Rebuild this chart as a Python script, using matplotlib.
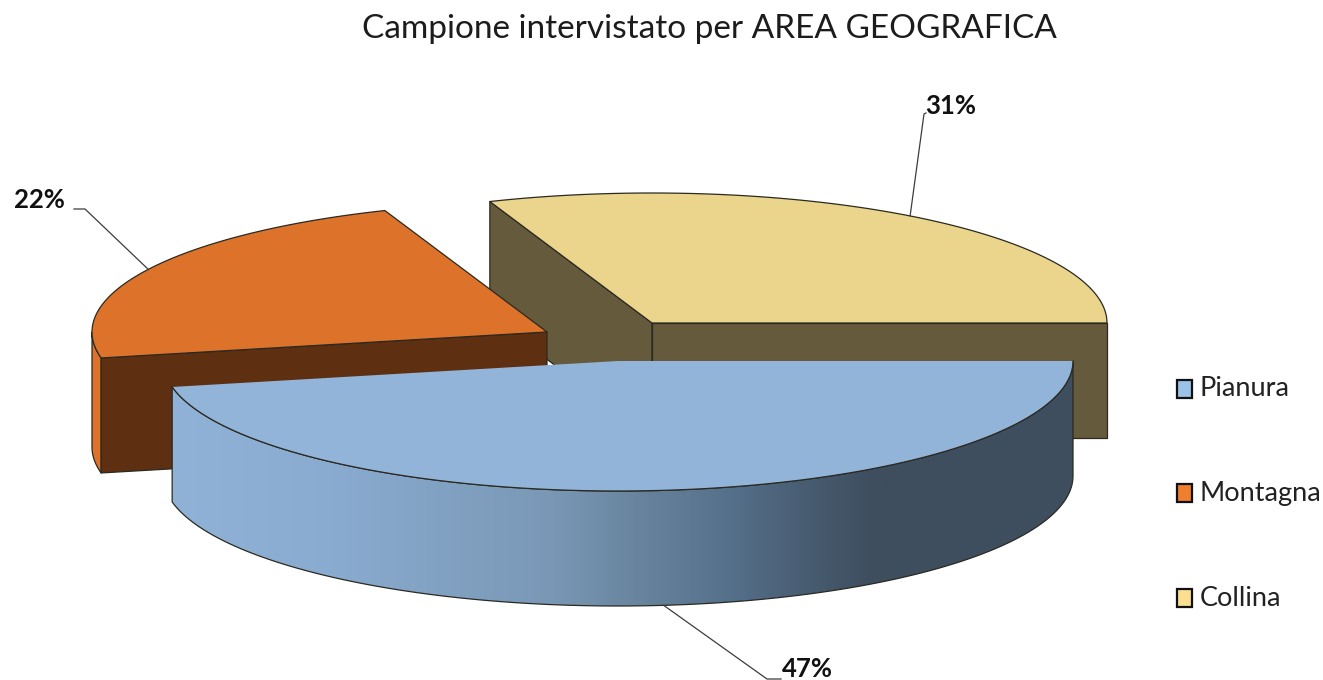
import numpy as np
import matplotlib
matplotlib.use("Agg")
import matplotlib.pyplot as plt
from matplotlib.colors import LinearSegmentedColormap
from matplotlib.patches import Polygon, Rectangle

plt.rcParams['font.family'] = ['Lato', 'DejaVu Sans']

title = "Campione intervistato per AREA GEOGRAFICA"
categories = ["Pianura", "Montagna", "Collina"]
# labels show the rounded values 47 / 22 / 31
values = [46.8, 22.4, 30.8]

# fake 3d pie: ellipse radii and slice thickness, in pixels
RX, RY, DEPTH = 455, 130, 115
centers = {"Pianura": (618, 361), "Montagna": (547, 332), "Collina": (652, 323)}
top_colors = {"Pianura": "#92b4d8", "Montagna": "#dd722b", "Collina": "#ebd48c"}
cut_colors = {"Pianura": "#3e4e5f", "Montagna": "#5f2f12", "Collina": "#665a3c"}
legend_colors = {"Pianura": "#9bc2e8", "Montagna": "#ef7f2e", "Collina": "#fbdf90"}
EDGE = "#2a2a22"


def rim(cat, a0, a1, dz=0, n=120):
    cx, cy = centers[cat]
    t = np.radians(np.linspace(a0, a1, n))
    return np.column_stack([cx + RX * np.cos(t), cy + RY * np.sin(t) + dz])


def point(cat, a, dz=0):
    return rim(cat, a, a, dz, 1)[0]


fig = plt.figure(figsize=(13.23, 6.8), dpi=100)
ax = fig.add_axes([0, 0, 1, 1])
ax.set_xlim(0, 1323)
ax.set_ylim(680, 0)
ax.axis("off")

# slice angles go clockwise on screen, starting from the right
bounds = np.concatenate([[0], np.cumsum(values)]) * 3.6
angles = {c: (bounds[i], bounds[i + 1]) for i, c in enumerate(categories)}


def cut_face(cat, a):
    center = np.array(centers[cat], dtype=float)
    p = point(cat, a)
    d = np.array([0, DEPTH])
    return [center, p, p + d, center + d]


def draw_poly(pts, color, z, lw=0.9, edge=EDGE):
    ax.add_patch(Polygon(pts, closed=True, facecolor=color, edgecolor=edge, lw=lw, zorder=z, joinstyle="round"))


# Collina (back)
a0, a1 = angles["Collina"]
draw_poly(cut_face("Collina", a0), cut_colors["Collina"], 1)
draw_poly(cut_face("Collina", a1), cut_colors["Collina"], 1)
draw_poly(np.vstack([[centers["Collina"]], rim("Collina", a0, a1)]), top_colors["Collina"], 2)

# Montagna
a0, a1 = angles["Montagna"]
outer = np.vstack([rim("Montagna", a0, 180), rim("Montagna", 180, a0, DEPTH)])
draw_poly(outer, top_colors["Montagna"], 3)
draw_poly(cut_face("Montagna", a0), cut_colors["Montagna"], 3)
draw_poly(np.vstack([[centers["Montagna"]], rim("Montagna", a0, a1)]), top_colors["Montagna"], 4)

# Pianura (front) with shaded outer wall
a0, a1 = angles["Pianura"]
wall = np.vstack([rim("Pianura", a0, a1), rim("Pianura", a1, a0, DEPTH)])
wall_patch = Polygon(wall, closed=True, facecolor="none", edgecolor=EDGE, lw=0.9, zorder=6)
shade = LinearSegmentedColormap.from_list(
    "shade", [(0, "#8fb2d6"), (0.18, "#89abcf"), (0.42, "#7a98b6"), (0.5, "#6b87a2"), (0.62, "#55708a"), (0.74, "#435568"), (0.78, "#3e4e5f"), (1, "#3e4e5f")]
)
x_min, x_max = wall[:, 0].min(), wall[:, 0].max()
img = ax.imshow(
    np.linspace(0, 1, 400)[None, :], cmap=shade, aspect="auto", zorder=5,
    extent=(x_min, x_max, wall[:, 1].max(), wall[:, 1].min()),
)
ax.add_patch(wall_patch)
img.set_clip_path(wall_patch)
ax.set_xlim(0, 1323)
ax.set_ylim(680, 0)
draw_poly(np.vstack([[centers["Pianura"]], rim("Pianura", a0, a1)]), top_colors["Pianura"], 7, lw=0)
ax.plot(*rim("Pianura", a0, a1).T, color=EDGE, lw=0.9, zorder=8)

# data labels with leader lines
label_pos = {"Pianura": (807, 669), "Montagna": (39, 200), "Collina": (951, 106)}
elbows = {"Pianura": [(767, 679), (781, 679)], "Montagna": [(85, 209), (74, 209)], "Collina": [(924, 114), (926, 113)]}
for cat, val in zip(categories, values):
    a0, a1 = angles[cat]
    mid = (a0 + a1) / 2
    anchor = point(cat, mid, DEPTH if cat == "Pianura" else 0)
    xs, ys = zip(*([tuple(anchor)] + elbows[cat]))
    ax.plot(xs, ys, color="#3c3c3c", lw=0.9, zorder=9)
    ax.text(*label_pos[cat], f"{val:.0f}%", fontsize=18.5, fontweight="bold", color="#111111", ha="center", va="center", zorder=10)

ax.text(709, 29, title, fontsize=24, color="#1c1c1c", ha="center", va="center")

# legend
legend_y = [389, 493, 598]
for cat, y in zip(categories, legend_y):
    ax.add_patch(Rectangle((1177, y - 9), 15, 18, facecolor=legend_colors[cat], edgecolor="#111111", lw=1.6, zorder=5))
    ax.text(1200, y, cat, fontsize=19.5, color="#222222", ha="left", va="center")

fig.savefig("out.png", dpi=100)
